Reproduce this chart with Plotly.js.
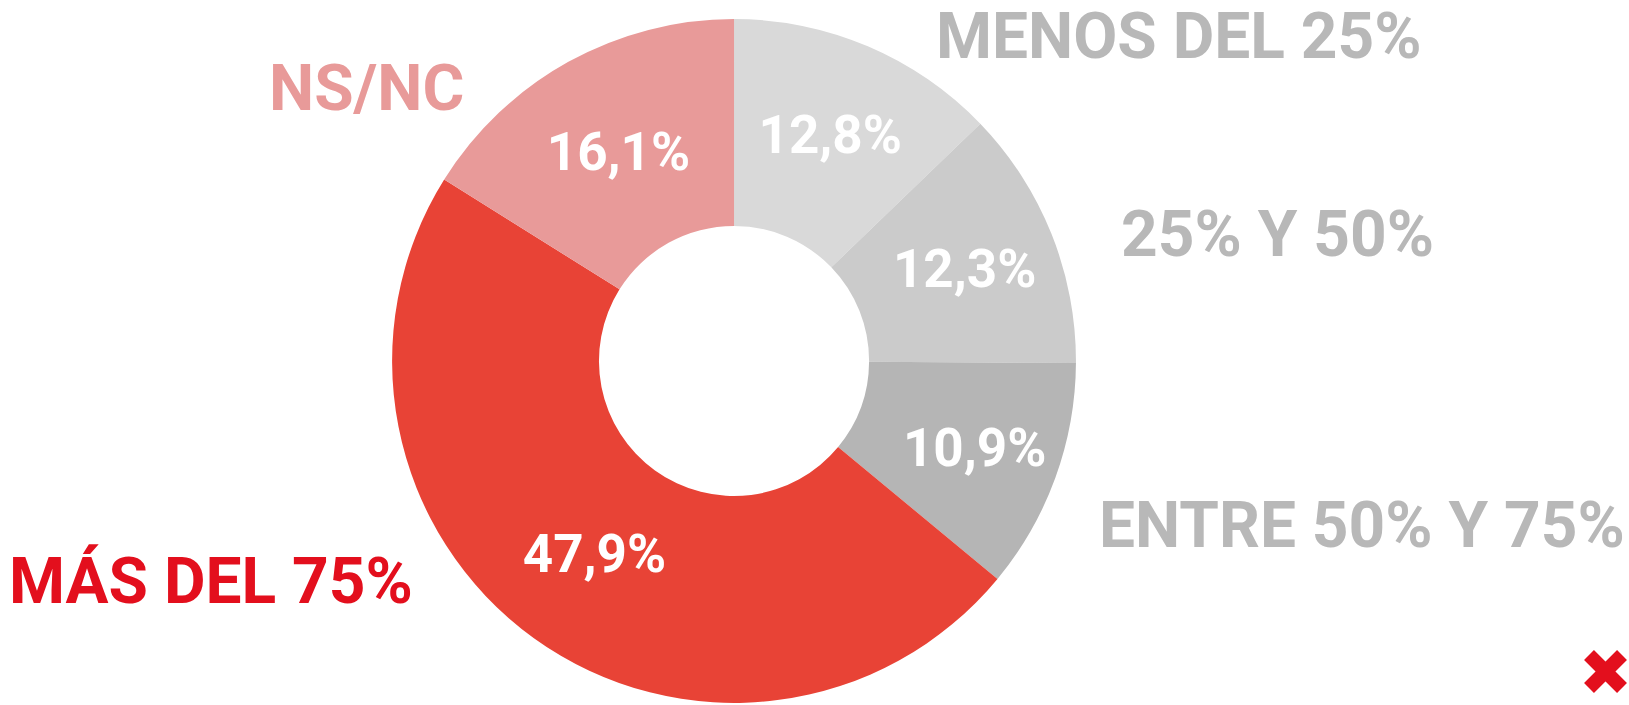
<!DOCTYPE html>
<html>
<head>
<meta charset="utf-8">
<script src="https://cdn.plot.ly/plotly-3.0.1.min.js"></script>
<style>
  html, body { margin: 0; padding: 0; background: #ffffff; }
  #chart { width: 1629px; height: 705px; }
</style>
</head>
<body>
<div id="chart"></div>
<script>
// Data
const categories = ['MENOS DEL 25%', '25% Y 50%', 'ENTRE 50% Y 75%', 'MÁS DEL 75%', 'NS/NC'];
const values = [12.8, 12.3, 10.9, 47.9, 16.1];
const sliceColors = ['#d9d9d9', '#cbcbcb', '#b5b5b5', '#e84336', '#e89a99'];
const labelColors = ['#b8b8b8', '#b8b8b8', '#b8b8b8', '#e30f1d', '#e89a99'];

const W = 1629, H = 705;

const trace = {
  type: 'pie',
  labels: categories,
  values: values,
  sort: false,
  direction: 'clockwise',
  rotation: 0,
  hole: 0.395,
  marker: { colors: sliceColors, line: { width: 0 } },
  texttemplate: '%{value:.1f}%',
  textposition: 'inside',
  insidetextorientation: 'horizontal',
  textfont: { family: 'Roboto', size: 53, color: '#ffffff', weight: 'bold' },
  hoverinfo: 'skip',
  showlegend: false,
  domain: { x: [0.2006, 0.7006], y: [0.003, 0.973] }
};

// label placement (pixels from top-left) — layout only
const labelPos = [
  { x: 934, y: 37 },
  { x: 1119, y: 235 },
  { x: 1097, y: 525 },
  { x: 7, y: 581 },
  { x: 267, y: 89 }
];

const annotations = categories.map((c, i) => ({
  text: c,
  xref: 'paper', yref: 'paper',
  x: labelPos[i].x / W,
  y: 1 - labelPos[i].y / H,
  xanchor: 'left',
  yanchor: 'middle',
  showarrow: false,
  font: { family: 'Roboto', size: 64, color: labelColors[i], weight: 'bold' }
}));

// decorative red cross (logo) in the bottom-right corner
const px = (x) => x / W, py = (y) => 1 - y / H;
const shapes = [
  { type: 'line', xref: 'paper', yref: 'paper', x0: px(1589), y0: py(655), x1: px(1622), y1: py(688),
    line: { color: '#e30f1d', width: 14 } },
  { type: 'line', xref: 'paper', yref: 'paper', x0: px(1622), y0: py(655), x1: px(1589), y1: py(688),
    line: { color: '#e30f1d', width: 14 } }
];

const layout = {
  width: W, height: H,
  margin: { l: 0, r: 0, t: 0, b: 0 },
  paper_bgcolor: '#ffffff',
  plot_bgcolor: '#ffffff',
  separators: ',.',
  showlegend: false,
  annotations: annotations,
  shapes: shapes
};

Plotly.newPlot('chart', [trace], layout, { displayModeBar: false, staticPlot: true });
</script>
</body>
</html>
